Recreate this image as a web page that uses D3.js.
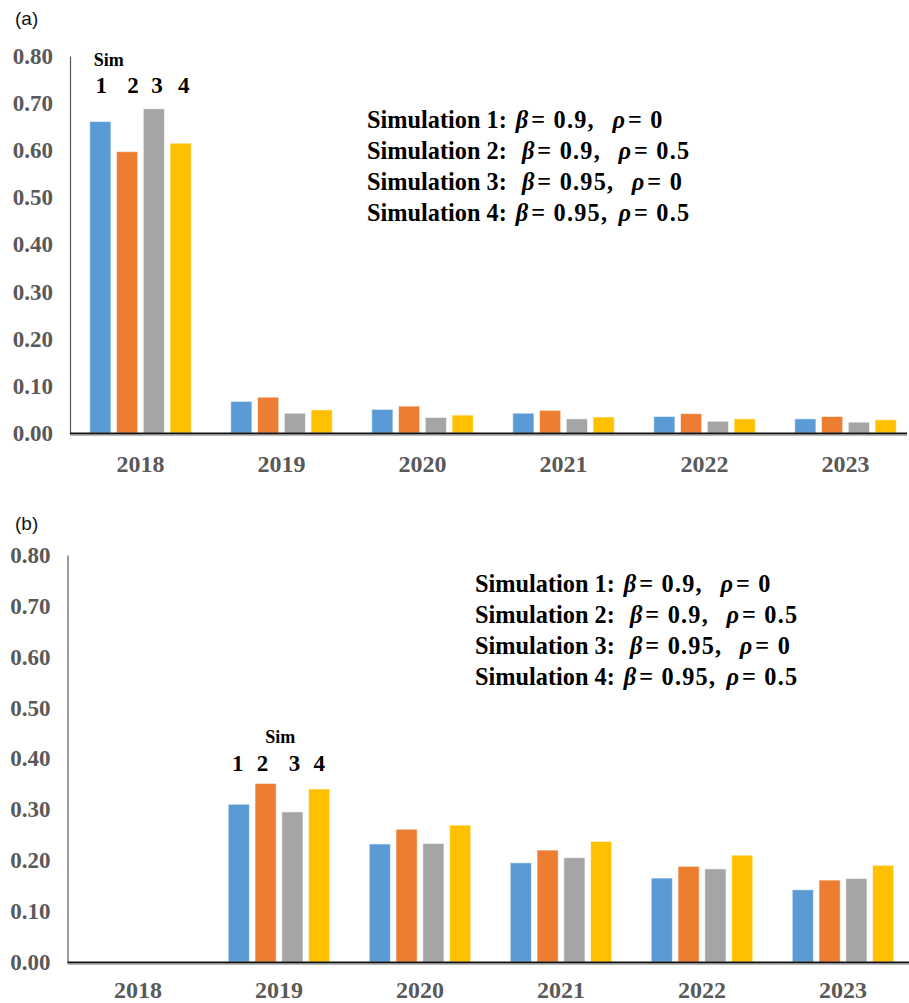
<!DOCTYPE html>
<html>
<head>
<meta charset="utf-8">
<script src="https://cdn.jsdelivr.net/npm/d3@7"></script>
<style>
  html, body { margin: 0; padding: 0; background: #fff; }
  svg { display: block; }
  text { white-space: pre; }
</style>
</head>
<body>
<svg id="chart" width="909" height="1003"></svg>
<script>
// Years on the category axis
const years = ["2018", "2019", "2020", "2021", "2022", "2023"];
const simNames = ["Sim 1", "Sim 2", "Sim 3", "Sim 4"];
const simColors = ["#5B9BD5", "#ED7D31", "#A5A5A5", "#FFC000"];

// Panel (a) values per simulation
const aSim1 = [0.661, 0.067, 0.050, 0.042, 0.035, 0.030];
const aSim2 = [0.597, 0.076, 0.057, 0.048, 0.041, 0.035];
const aSim3 = [0.688, 0.042, 0.033, 0.030, 0.025, 0.023];
const aSim4 = [0.615, 0.049, 0.038, 0.034, 0.030, 0.028];

// Panel (b) values per simulation (no value in 2018)
const bSim1 = [null, 0.310, 0.232, 0.195, 0.165, 0.142];
const bSim2 = [null, 0.351, 0.261, 0.220, 0.188, 0.161];
const bSim3 = [null, 0.295, 0.233, 0.205, 0.183, 0.164];
const bSim4 = [null, 0.340, 0.269, 0.237, 0.210, 0.190];

const yTicks = [0, 0.1, 0.2, 0.3, 0.4, 0.5, 0.6, 0.7, 0.8];

// Legend rows: [label, beta text, rho text]
const legendRows = [
  ["Simulation 1: ", "= 0.9,  ", "= 0"],
  ["Simulation 2:  ", "= 0.9,  ", "= 0.5"],
  ["Simulation 3:  ", "= 0.95,  ", "= 0"],
  ["Simulation 4: ", "= 0.95, ", "= 0.5"]
];

const svg = d3.select("#chart");
const serif = "'Liberation Serif', 'Times New Roman', serif";

function drawPanel(cfg) {
  const { series, top, bottom, left, axisEnd, tag, tagY, legendX, legendY, yearPad,
          simYear, simOffsets, simY, simLabelX, simLabelY } = cfg;
  const g = svg.append("g");

  const x0 = d3.scaleBand().domain(years).range([left, left + 6 * 141]);
  const x1 = d3.scaleBand().domain(simNames).range([0, 101.5]).paddingInner(0.21);
  const groupOffset = (x0.bandwidth() - 101.5) / 2;
  const y = d3.scaleLinear().domain([0, 0.8]).range([bottom, top]);

  // panel tag
  g.append("text").attr("x", 15).attr("y", tagY)
    .attr("font-family", "'Liberation Sans', Arial, sans-serif")
    .attr("font-size", 19).attr("fill", "#111").text(tag);

  // y axis
  const yAxis = d3.axisLeft(y).tickValues(yTicks).tickFormat(d3.format(".2f")).tickSize(0).tickPadding(17);
  const ya = g.append("g").attr("transform", `translate(${left},0)`).call(yAxis);
  ya.select(".domain").attr("stroke", "#595959").attr("stroke-width", 1.2);
  ya.selectAll("text").attr("font-family", serif).attr("font-weight", "bold")
    .attr("font-size", 23).attr("fill", "#595959");

  // bars
  series.forEach((vals, si) => {
    g.append("g").selectAll("rect")
      .data(years.map((yr, i) => ({ yr, v: vals[i] })).filter(d => d.v != null))
      .join("rect")
      .attr("x", d => x0(d.yr) + groupOffset + x1(simNames[si]))
      .attr("y", d => y(d.v))
      .attr("width", x1.bandwidth())
      .attr("height", d => y(0) - y(d.v))
      .attr("fill", simColors[si])
      .attr("stroke", "#ffffff").attr("stroke-opacity", 0.55).attr("stroke-width", 1);
  });

  // x axis
  const xa = g.append("g").attr("transform", `translate(0,${bottom})`)
    .call(d3.axisBottom(x0).tickSize(0).tickPadding(yearPad));
  xa.select(".domain").remove();
  xa.selectAll("text").attr("font-family", serif).attr("font-weight", "bold")
    .attr("font-size", 24).attr("fill", "#595959");
  g.append("line").attr("x1", left).attr("x2", axisEnd).attr("y1", bottom + 0.5).attr("y2", bottom + 0.5)
    .attr("stroke", "#111").attr("stroke-width", 1.8);
  g.append("line").attr("x1", left).attr("x2", axisEnd).attr("y1", bottom + 2.2).attr("y2", bottom + 2.2)
    .attr("stroke", "#9a9a9a").attr("stroke-width", 1);

  // legend
  const leg = g.append("g").attr("font-family", serif).attr("font-weight", "bold")
    .attr("font-size", 24.3).attr("fill", "#000");
  legendRows.forEach((r, i) => {
    const t = leg.append("text").attr("x", legendX).attr("y", legendY + i * 31);
    t.append("tspan").text(r[0]);
    t.append("tspan").attr("font-style", "italic").attr("dx", 3).text("β");
    t.append("tspan").attr("dx", 3).attr("letter-spacing", 1.2).text(r[1]);
    t.append("tspan").attr("font-style", "italic").attr("dx", 3).text("ρ");
    t.append("tspan").attr("dx", 3).attr("letter-spacing", 1.2).text(r[2]);
  });

  // "Sim" annotation with the series numbers over the bars
  const sx = x0(simYear) + groupOffset;
  g.append("text").attr("x", sx + simLabelX).attr("y", simLabelY)
    .attr("font-family", serif).attr("font-weight", "bold").attr("font-size", 18)
    .attr("fill", "#000").text("Sim");
  simNames.forEach((s, i) => {
    g.append("text")
      .attr("x", sx + x1(s) + x1.bandwidth() / 2 + simOffsets[i])
      .attr("y", simY)
      .attr("text-anchor", "middle")
      .attr("font-family", serif).attr("font-weight", "bold").attr("font-size", 23)
      .attr("fill", "#000").text(String(i + 1));
  });
}

drawPanel({
  series: [aSim1, aSim2, aSim3, aSim4],
  top: 56, bottom: 433, left: 70, axisEnd: 907,
  tag: "(a)", tagY: 25, yearPad: 22,
  legendX: 367, legendY: 128,
  simYear: "2018", simOffsets: [1, 6, 3, 3], simY: 93,
  simLabelX: 4, simLabelY: 66
});

drawPanel({
  series: [bSim1, bSim2, bSim3, bSim4],
  top: 555, bottom: 962, left: 67.5, axisEnd: 909,
  tag: "(b)", tagY: 530, yearPad: 19,
  legendX: 475, legendY: 592,
  simYear: "2019", simOffsets: [-1, -3, 2, 0], simY: 771,
  simLabelX: 37, simLabelY: 743
});
</script>
</body>
</html>
